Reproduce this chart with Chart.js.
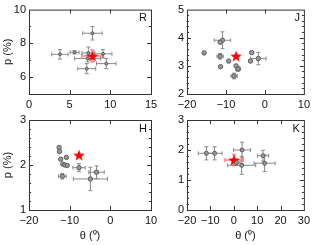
<!DOCTYPE html>
<html>
<head>
<meta charset="utf-8">
<script src="https://cdn.jsdelivr.net/npm/chart.js@4"></script>
<style>
body { margin: 0; background: #fff; }
#wrap { position: relative; width: 314px; height: 245px; }
canvas { position: absolute; left: 0; top: 0; }
</style>
</head>
<body>
<div id="wrap">
  <canvas id="cR" width="314" height="245"></canvas>
  <canvas id="cJ" width="314" height="245"></canvas>
  <canvas id="cH" width="314" height="245"></canvas>
  <canvas id="cK" width="314" height="245"></canvas>
</div>
<script>
// R band
var rTheta    = [7.8, 3.8, 5.6, 7.3, 9.1, 7.2, 9.5, 7.1];
var rP        = [8.6, 7.35, 7.47, 7.43, 7.38, 7.1, 6.8, 6.5];
var rThetaErr = [1.2, 1.0, 0.55, 0.8, 1.1, 1.6, 1.2, 1.1];
var rPErr     = [0.4, 0.28, 0.1, 0.35, 0.25, 0.2, 0.3, 0.3];
var rStarTheta = [7.8], rStarP = [7.25], rStarThetaErr = [1.3], rStarPErr = [0.35];

// J band
var jTheta    = [-10.9, -11.5, -15.6, -11.5, -9.3, -11.4, -7.4, -6.9, -7.9, -3.4, -3.7, -1.7];
var jP        = [3.91, 3.84, 3.46, 3.34, 3.17, 2.97, 3.0, 2.89, 2.64, 3.47, 3.17, 3.26];
var jThetaErr = [2.1, 0, 0, 0.8, 0, 0, 0, 0.6, 0.8, 0, 0, 2.0];
var jPErr     = [0.3, 0, 0, 0.1, 0, 0, 0, 0.08, 0.1, 0, 0, 0.22];
var jStarTheta = [-7.4], jStarP = [3.35], jStarThetaErr = [0], jStarPErr = [0];

// H band
var hTheta    = [-12.6, -12.5, -12.2, -10.8, -11.7, -11.2, -10.6, -11.8, -7.7, -3.4, -4.9];
var hP        = [2.39, 2.30, 2.13, 2.17, 2.02, 2.0, 1.99, 1.75, 1.94, 1.84, 1.69];
var hThetaErr = [0, 0, 0, 0, 0, 0, 0, 0.95, 1.5, 1.9, 4.2];
var hPErr     = [0, 0, 0, 0, 0, 0, 0, 0.06, 0.09, 0.14, 0.26];
var hStarTheta = [-7.7], hStarP = [2.22], hStarThetaErr = [0], hStarPErr = [0];

// K band
var kTheta    = [-11.7, -8.2, 3.55, 3.4, 12.5, 13.2, 1.2];
var kP        = [1.89, 1.89, 2.0, 1.49, 1.81, 1.56, 1.58];
var kThetaErr = [3.5, 3.2, 3.6, 6.0, 2.4, 4.5, 1.5];
var kPErr     = [0.22, 0.22, 0.26, 0.3, 0.18, 0.28, 0.1];
var kStarTheta = [0.1], kStarP = [1.67], kStarThetaErr = [3.9], kStarPErr = [0.18];

var fontFam = "'Liberation Sans', Arial, sans-serif";

// filled five-point star used as point style
function makeStar(size) {
	var c = document.createElement('canvas');
	c.width = size; c.height = size;
	var g = c.getContext('2d'), r = size / 2, ri = r * 0.42;
	g.beginPath();
	for (var i = 0; i < 10; i++) {
		var a = -Math.PI / 2 + i * Math.PI / 5;
		var rr = i % 2 ? ri : r;
		g.lineTo(r + rr * Math.cos(a), r + 0.6 + rr * Math.sin(a));
	}
	g.closePath();
	g.fillStyle = '#ff0000';
	g.fill();
	return c;
}
var star = makeStar(12);

function pts(xs, ys) {
	return xs.map(function(x, i) { return {x: x, y: ys[i]}; });
}

function minus(v) {
	return String(v).replace('-', '\u2212');
}

var errorBars = {
	id: 'errorBars',
	beforeDatasetsDraw: function(chart) {
		var ctx = chart.ctx, xs = chart.scales.x, ys = chart.scales.y;
		chart.data.datasets.forEach(function(ds) {
			if (!ds.ex) return;
			ctx.save();
			ctx.strokeStyle = ds.errColor;
			ctx.lineWidth = ds.errWidth;
			ds.data.forEach(function(p, i) {
				var px = xs.getPixelForValue(p.x), py = ys.getPixelForValue(p.y);
				var dx = ds.ex[i], dy = ds.ey[i];
				ctx.beginPath();
				if (dx) {
					var x0 = xs.getPixelForValue(p.x - dx), x1 = xs.getPixelForValue(p.x + dx);
					ctx.moveTo(x0, py); ctx.lineTo(x1, py);
					ctx.moveTo(x0, py - 2); ctx.lineTo(x0, py + 2);
					ctx.moveTo(x1, py - 2); ctx.lineTo(x1, py + 2);
				}
				if (dy) {
					var y0 = ys.getPixelForValue(p.y - dy), y1 = ys.getPixelForValue(p.y + dy);
					ctx.moveTo(px, y0); ctx.lineTo(px, y1);
					ctx.moveTo(px - 2, y0); ctx.lineTo(px + 2, y0);
					ctx.moveTo(px - 2, y1); ctx.lineTo(px + 2, y1);
				}
				ctx.stroke();
			});
			ctx.restore();
		});
	}
};

// box round the plot with inward ticks on all four sides, plus the band name
var frame = {
	id: 'frame',
	afterDraw: function(chart) {
		var a = chart.chartArea, ctx = chart.ctx;
		var xs = chart.scales.x, ys = chart.scales.y;
		var f = chart.options.plugins.frame;
		ctx.save();
		ctx.strokeStyle = '#333';
		ctx.lineWidth = 1;
		ctx.strokeRect(a.left + 0.5, a.top + 0.5, a.right - a.left, a.bottom - a.top);
		ctx.beginPath();
		function walk(min, max, minor, major, fn) {
			var n = Math.round((max - min) / minor);
			for (var k = 1; k < n; k++) {
				var v = min + k * minor;
				var isMajor = Math.abs(v / major - Math.round(v / major)) < 1e-6;
				fn(v, isMajor ? 4 : 2);
			}
		}
		walk(xs.min, xs.max, f.xMinor, f.xMajor, function(v, len) {
			var x = Math.round(xs.getPixelForValue(v)) + 0.5;
			ctx.moveTo(x, a.bottom); ctx.lineTo(x, a.bottom - len);
			ctx.moveTo(x, a.top); ctx.lineTo(x, a.top + len);
		});
		walk(ys.min, ys.max, f.yMinor, f.yMajor, function(v, len) {
			var y = Math.round(ys.getPixelForValue(v)) + 0.5;
			ctx.moveTo(a.left, y); ctx.lineTo(a.left + len, y);
			ctx.moveTo(a.right, y); ctx.lineTo(a.right - len, y);
		});
		ctx.stroke();
		ctx.fillStyle = '#111';
		ctx.font = '11px ' + fontFam;
		ctx.textAlign = 'right';
		ctx.textBaseline = 'top';
		ctx.fillText(f.band, a.right - 4, a.top + 3);
		ctx.restore();
	}
};

function panel(id, cfg) {
	var padLeft = cfg.yTitle ? 0 : cfg.left - 30;
	var xHeight = cfg.xTitle ? 35 : 20;
	var padBottom = 245 - cfg.bottom - xHeight;
	return new Chart(document.getElementById(id), {
		type: 'scatter',
		data: {
			datasets: [
				{
					data: pts(cfg.theta, cfg.p),
					ex: cfg.thetaErr, ey: cfg.pErr,
					errColor: '#8a8a8a', errWidth: 1,
					pointStyle: 'circle',
					pointRadius: cfg.dot,
					backgroundColor: '#9a9a9a',
					borderColor: '#5a5a5a',
					borderWidth: 1
				},
				{
					data: pts(cfg.starTheta, cfg.starP),
					ex: cfg.starThetaErr, ey: cfg.starPErr,
					errColor: 'rgba(255,60,60,0.5)', errWidth: 2,
					pointStyle: star,
					pointRadius: 6
				}
			]
		},
		options: {
			responsive: false,
			animation: false,
			events: [],
			layout: {
				padding: {left: padLeft, right: 314 - cfg.right, top: cfg.top, bottom: padBottom}
			},
			plugins: {
				legend: {display: false},
				tooltip: {enabled: false},
				frame: {band: cfg.band, xMajor: cfg.xStep, xMinor: cfg.xStep, yMajor: cfg.yStep, yMinor: cfg.yMinor}
			},
			scales: {
				x: {
					type: 'linear',
					min: cfg.xMin, max: cfg.xMax,
					afterFit: function(s) { s.height = xHeight; },
					grid: {display: false, drawTicks: false},
					border: {display: false},
					ticks: {
						stepSize: cfg.xStep, padding: 4, maxRotation: 0,
						color: '#111', font: {family: fontFam, size: 11},
						callback: minus
					},
					title: {
						display: cfg.xTitle, text: '\u03b8 (\u2070)',
						color: '#111', font: {family: fontFam, size: 11},
						padding: {top: 0, bottom: 2}
					}
				},
				y: {
					type: 'linear',
					min: cfg.yMin, max: cfg.yMax,
					afterFit: function(s) { s.width = cfg.left - padLeft; },
					grid: {display: false, drawTicks: false},
					border: {display: false},
					ticks: {
						stepSize: cfg.yLabelStep, padding: 3,
						color: '#111', font: {family: fontFam, size: 11},
						callback: function(v) {
							if (Math.abs(v / cfg.yLabelStep - Math.round(v / cfg.yLabelStep)) > 1e-6) return '';
							return minus(v);
						}
					},
					title: {
						display: cfg.yTitle, text: 'p (%)',
						color: '#111', font: {family: fontFam, size: 11},
						padding: {top: 1, bottom: 0}
					}
				}
			}
		},
		plugins: [errorBars, frame]
	});
}

panel('cR', {
	band: 'R', left: 29, right: 151, top: 5, bottom: 94, yTitle: true, xTitle: false,
	xMin: 0, xMax: 15, xStep: 5, yMin: 5, yMax: 10, yLabelStep: 2, yStep: 2, yMinor: 1,
	theta: rTheta, p: rP, thetaErr: rThetaErr, pErr: rPErr, dot: 1.5,
	starTheta: rStarTheta, starP: rStarP, starThetaErr: rStarThetaErr, starPErr: rStarPErr
});
panel('cJ', {
	band: 'J', left: 187, right: 308, top: 5, bottom: 94, yTitle: false, xTitle: false,
	xMin: -20, xMax: 10, xStep: 10, yMin: 2, yMax: 5, yLabelStep: 1, yStep: 1, yMinor: 0.2,
	theta: jTheta, p: jP, thetaErr: jThetaErr, pErr: jPErr, dot: 2.2,
	starTheta: jStarTheta, starP: jStarP, starThetaErr: jStarThetaErr, starPErr: jStarPErr
});
panel('cH', {
	band: 'H', left: 29, right: 151, top: 120, bottom: 210, yTitle: true, xTitle: true,
	xMin: -20, xMax: 10, xStep: 10, yMin: 1, yMax: 3, yLabelStep: 1, yStep: 1, yMinor: 0.2,
	theta: hTheta, p: hP, thetaErr: hThetaErr, pErr: hPErr, dot: 2.2,
	starTheta: hStarTheta, starP: hStarP, starThetaErr: hStarThetaErr, starPErr: hStarPErr
});
panel('cK', {
	band: 'K', left: 187, right: 308, top: 120, bottom: 210, yTitle: false, xTitle: true,
	xMin: -20, xMax: 30, xStep: 10, yMin: 0, yMax: 3, yLabelStep: 1, yStep: 1, yMinor: 0.2,
	theta: kTheta, p: kP, thetaErr: kThetaErr, pErr: kPErr, dot: 2,
	starTheta: kStarTheta, starP: kStarP, starThetaErr: kStarThetaErr, starPErr: kStarPErr
});
</script>
</body>
</html>
